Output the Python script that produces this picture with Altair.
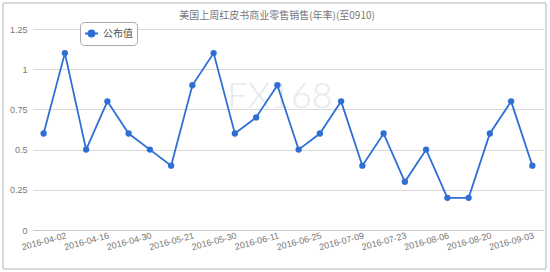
import altair as alt
import pandas as pd

dates = ["2016-03-26", "2016-04-02", "2016-04-09", "2016-04-16", "2016-04-23", "2016-04-30",
         "2016-05-14", "2016-05-21", "2016-05-28", "2016-05-30", "2016-06-04", "2016-06-11",
         "2016-06-18", "2016-06-25", "2016-07-02", "2016-07-09", "2016-07-16", "2016-07-23",
         "2016-07-30", "2016-08-06", "2016-08-13", "2016-08-20", "2016-08-27", "2016-09-03"]
values = [0.6, 1.1, 0.5, 0.8, 0.6, 0.5, 0.4, 0.9, 1.1, 0.6, 0.7, 0.9,
          0.5, 0.6, 0.8, 0.4, 0.6, 0.3, 0.5, 0.2, 0.2, 0.6, 0.8, 0.4]
label_dates = dates[1::2]
y_ticks = [0, 0.25, 0.5, 0.75, 1, 1.25]
series_name = "公布值"
title_text = "美国上周红皮书商业零售销售(年率)(至0910)"
watermark = "FX168"

BLUE = "#2e6fd5"

df = pd.DataFrame({"date": dates, "value": values, "series": series_name})

x = alt.X("date:O", sort=None, title=None,
          scale=alt.Scale(type="point", padding=0.5),
          axis=alt.Axis(values=label_dates, labelAngle=345, labelAlign="right",
                        labelBaseline="top", labelPadding=1, labelFontSize=9,
                        labelColor="#777", ticks=False, domainColor="#c8c8c8",
                        grid=False, labelOverlap=False))
y = alt.Y("value:Q", title=None,
          scale=alt.Scale(domain=[0, 1.25], nice=False),
          axis=alt.Axis(values=y_ticks, labelExpr="datum.value + ''", labelFontSize=9,
                        labelColor="#777", labelPadding=6, ticks=False, domain=False,
                        gridColor="#d9d9d9"))
color = alt.Color("series:N", title=None,
                  scale=alt.Scale(range=[BLUE]),
                  legend=alt.Legend(orient="none", legendX=47, legendY=-7,
                                    strokeColor="#aaa", cornerRadius=4, padding=4,
                                    fillColor="white", labelFontSize=10, labelColor="#555",
                                    symbolType="M-1,0L1,0M-0.45,0A0.45,0.45,0,1,1,0.45,0A0.45,0.45,0,1,1,-0.45,0Z",
                                    symbolSize=169, symbolStrokeWidth=2,
                                    symbolFillColor=BLUE, symbolStrokeColor=BLUE,
                                    labelFont="Noto Sans CJK SC"))

line = alt.Chart(df).mark_line(strokeWidth=1.8).encode(x=x, y=y, color=color)
pts = alt.Chart(df).mark_point(filled=True, size=40, opacity=1).encode(x=x, y=y, color=color)

wm = alt.Chart(pd.DataFrame({"t": [watermark]})).mark_text(
    fontSize=36, font="Lato", fontWeight=300, color="#e6e9ef", align="center", baseline="alphabetic"
).encode(text="t:N", x=alt.value(247), y=alt.value(79))

border = alt.Chart(pd.DataFrame({"a": [0]})).mark_rect(
    fill=None, stroke="#cccccc", strokeWidth=1.5, cornerRadius=2
).encode(x=alt.value(-30), x2=alt.value(513), y=alt.value(-26), y2=alt.value(240))

chart = alt.layer(border, wm, line, pts).properties(
    width=510, height=201,
    title=alt.TitleParams(title_text, fontSize=10, color="#777", font="Noto Sans CJK SC",
                          fontWeight="normal", offset=8, dx=-11, dy=27, anchor="middle"),
    autosize=alt.AutoSizeParams(type="none"),
    padding={"left": 33, "top": 29, "right": 7, "bottom": 42},
    background="white"
).configure_view(stroke=None)

chart.save("out.html", embed_options={"renderer": "svg", "actions": False})
